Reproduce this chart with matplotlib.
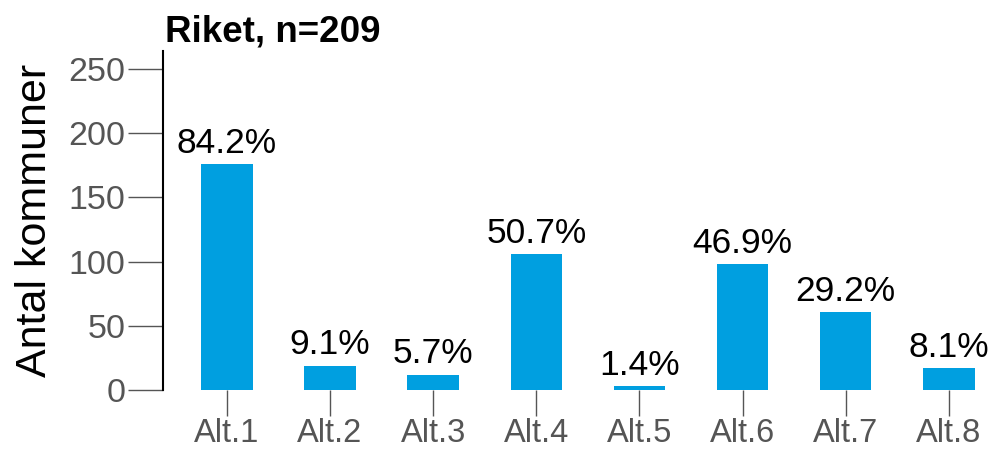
import matplotlib.pyplot as plt

categories = ["Alt.1", "Alt.2", "Alt.3", "Alt.4", "Alt.5", "Alt.6", "Alt.7", "Alt.8"]
counts = [176, 19, 12, 106, 3, 98, 61, 17]
percents = ["84.2%", "9.1%", "5.7%", "50.7%", "1.4%", "46.9%", "29.2%", "8.1%"]
yticks = [0, 50, 100, 150, 200, 250]
title = "Riket, n=209"

BLUE = "#009FE0"
GREY = "#555555"

plt.rcParams["font.family"] = "Liberation Sans"

fig = plt.figure(figsize=(9.92, 4.57), dpi=100)
ax = fig.add_axes([163 / 992, 67 / 457, 827 / 992, 339 / 457])

x = range(len(categories))
ax.bar(x, counts, width=0.5, color=BLUE, zorder=2)
for xi, c, p in zip(x, counts, percents):
    ax.annotate(p, (xi, c), xytext=(0, 3), textcoords="offset points",
                ha="center", va="bottom", fontsize=25.5, color="black")

ax.set_xlim(-0.62, 7.4)
ax.set_ylim(0, 264)
ax.set_xticks(list(x))
ax.set_xticklabels(categories)
ax.set_yticks(yticks)

for side in ["top", "right", "bottom"]:
    ax.spines[side].set_visible(False)
ax.spines["left"].set_linewidth(1.5)
ax.spines["left"].set_color("black")

ax.tick_params(axis="y", length=25, width=1, color=GREY, labelcolor=GREY,
               labelsize=24.5, pad=2)
ax.tick_params(axis="x", length=19, width=1, color=GREY, labelcolor=GREY,
               labelsize=23.5, pad=1)

ax.set_ylabel("Antal kommuner", fontsize=31, color="black", labelpad=10)
ax.set_title(title, loc="left", fontsize=26.5, fontweight="bold", pad=7, x=0.003)

fig.savefig("out.png", dpi=100)
